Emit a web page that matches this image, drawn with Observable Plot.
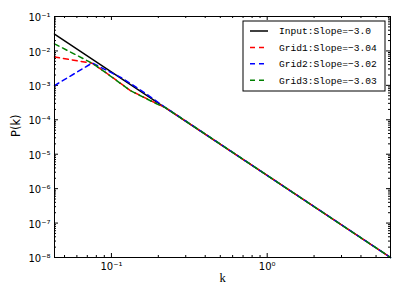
<!DOCTYPE html>
<html><head><meta charset="utf-8">
<script src="https://cdn.jsdelivr.net/npm/d3@7"></script>
<script src="https://cdn.jsdelivr.net/npm/@observablehq/plot@0.6"></script>
<style>body{margin:0;background:#fff} #chart{position:relative;width:399px;height:299px}</style>
</head><body><div id="chart"></div>
<script>
// ---- data ----
const seriesNames = ["Input:Slope=\u22123.0", "Grid1:Slope=\u22123.04", "Grid2:Slope=\u22123.02", "Grid3:Slope=\u22123.03"];
const seriesColors = ["#000000", "#ff0000", "#0000ff", "#008000"];
const kInput = [0.0431, 6.19];
const pInput = [0.0310, 1.0e-8];
const kGrid1 = [0.0431, 0.0752, 0.0915, 0.1324, 0.1966, 0.2223, 6.19];
const pGrid1 = [0.00665, 0.00439, 0.00240, 7.06e-4, 2.90e-4, 2.26e-4, 1.0e-8];
const kGrid2 = [0.0431, 0.0752, 0.1171, 0.1695, 0.2223, 6.19];
const pGrid2 = [9.86e-4, 0.00445, 0.00163, 5.41e-4, 2.27e-4, 1.0e-8];
const kGrid3 = [0.0431, 0.0752, 0.0915, 0.1324, 0.1966, 0.2223, 6.19];
const pGrid3 = [0.0161, 0.00440, 0.00238, 7.0e-4, 2.86e-4, 2.26e-4, 1.0e-8];
const xMajorTicks = [0.1, 1];
const yMajorTicks = [1e-8, 1e-7, 1e-6, 1e-5, 1e-4, 1e-3, 1e-2, 1e-1];
const xDomain = [0.0431, 6.19];
const yDomain = [1e-8, 1e-1];

// ---- layout ----
const W = 399, H = 299, mL = 54, mR = 9, mT = 16, mB = 42;
const iw = W - mL - mR, ih = H - mT - mB;

const supMap = {"-": "\u207B", "0": "\u2070", "1": "\u00B9", "2": "\u00B2", "3": "\u00B3", "4": "\u2074", "5": "\u2075", "6": "\u2076", "7": "\u2077", "8": "\u2078", "9": "\u2079"};
const fmt = d => "10" + String(Math.round(Math.log10(d))).split("").map(c => supMap[c]).join("");

function minorTicks(domain) {
  const out = [];
  const lo = Math.floor(Math.log10(domain[0])), hi = Math.ceil(Math.log10(domain[1]));
  for (let e = lo; e <= hi; e++) for (let m = 2; m <= 9; m++) {
    const v = m * Math.pow(10, e);
    if (v >= domain[0] && v <= domain[1]) out.push(v);
  }
  return out;
}
const xMinor = minorTicks(xDomain), yMinor = minorTicks(yDomain);

const rows = (ks, ps) => ks.map((k, i) => ({k, p: ps[i]}));
const dataSets = [rows(kInput, pInput), rows(kGrid1, pGrid1), rows(kGrid2, pGrid2), rows(kGrid3, pGrid3)];

const dash = "5,4";
const plot = Plot.plot({
  width: W, height: H,
  marginLeft: mL, marginRight: mR, marginTop: mT, marginBottom: mB,
  style: {fontFamily: "DejaVu Sans", fontSize: "10px", background: "white", color: "black"},
  x: {type: "log", domain: xDomain, axis: null},
  y: {type: "log", domain: yDomain, axis: null},
  marks: [
    // inward ticks on all four sides
    Plot.tickY(yMajorTicks, {y: d => d, insetRight: iw - 4, stroke: "black"}),
    Plot.tickY(yMajorTicks, {y: d => d, insetLeft: iw - 4, stroke: "black"}),
    Plot.tickY(yMinor, {y: d => d, insetRight: iw - 2, stroke: "black"}),
    Plot.tickY(yMinor, {y: d => d, insetLeft: iw - 2, stroke: "black"}),
    Plot.tickX(xMajorTicks, {x: d => d, insetTop: ih - 4, stroke: "black"}),
    Plot.tickX(xMajorTicks, {x: d => d, insetBottom: ih - 4, stroke: "black"}),
    Plot.tickX(xMinor, {x: d => d, insetTop: ih - 2, stroke: "black"}),
    Plot.tickX(xMinor, {x: d => d, insetBottom: ih - 2, stroke: "black"}),
    Plot.line(dataSets[0], {x: "k", y: "p", stroke: seriesColors[0], strokeWidth: 1.5}),
    Plot.line(dataSets[1], {x: "k", y: "p", stroke: seriesColors[1], strokeWidth: 1.5, strokeDasharray: dash}),
    Plot.line(dataSets[2], {x: "k", y: "p", stroke: seriesColors[2], strokeWidth: 1.5, strokeDasharray: dash}),
    Plot.line(dataSets[3], {x: "k", y: "p", stroke: seriesColors[3], strokeWidth: 1.5, strokeDasharray: dash}),
    Plot.frame({stroke: "black"}),
    Plot.axisY({ticks: yMajorTicks, tickFormat: fmt, tickSize: 0, tickPadding: 4, dy: 1.5, label: null}),
    Plot.axisX({ticks: xMajorTicks, tickFormat: fmt, tickSize: 0, tickPadding: 5, label: null}),
    Plot.text(["k"], {frameAnchor: "bottom", dy: 24.5, fontFamily: "Liberation Serif", fontSize: 12.5}),
    Plot.text(["P(k)"], {frameAnchor: "left", dx: -38.5, rotate: -90, fontSize: 11.5})
  ]
});
document.getElementById("chart").appendChild(plot);

// ---- legend (drawn inside the axes, upper right) ----
const svg = d3.select(plot);
const lg = svg.append("g").attr("transform", "translate(243,21)");
lg.append("rect").attr("width", 142).attr("height", 70).attr("fill", "white").attr("stroke", "black").attr("stroke-width", 1);
seriesNames.forEach((name, i) => {
  const y = 10 + i * 16.4;
  lg.append("line").attr("x1", 7).attr("x2", i === 0 ? 25 : 24).attr("y1", y).attr("y2", y)
    .attr("stroke", seriesColors[i]).attr("stroke-width", 1.5)
    .attr("stroke-dasharray", i === 0 ? null : dash);
  lg.append("text").attr("x", 36).attr("y", y).attr("dy", "0.35em")
    .attr("text-anchor", "start")
    .attr("font-family", "Liberation Mono").attr("font-size", "9.6px").attr("fill", "black")
    .text(name);
});
</script></body></html>
